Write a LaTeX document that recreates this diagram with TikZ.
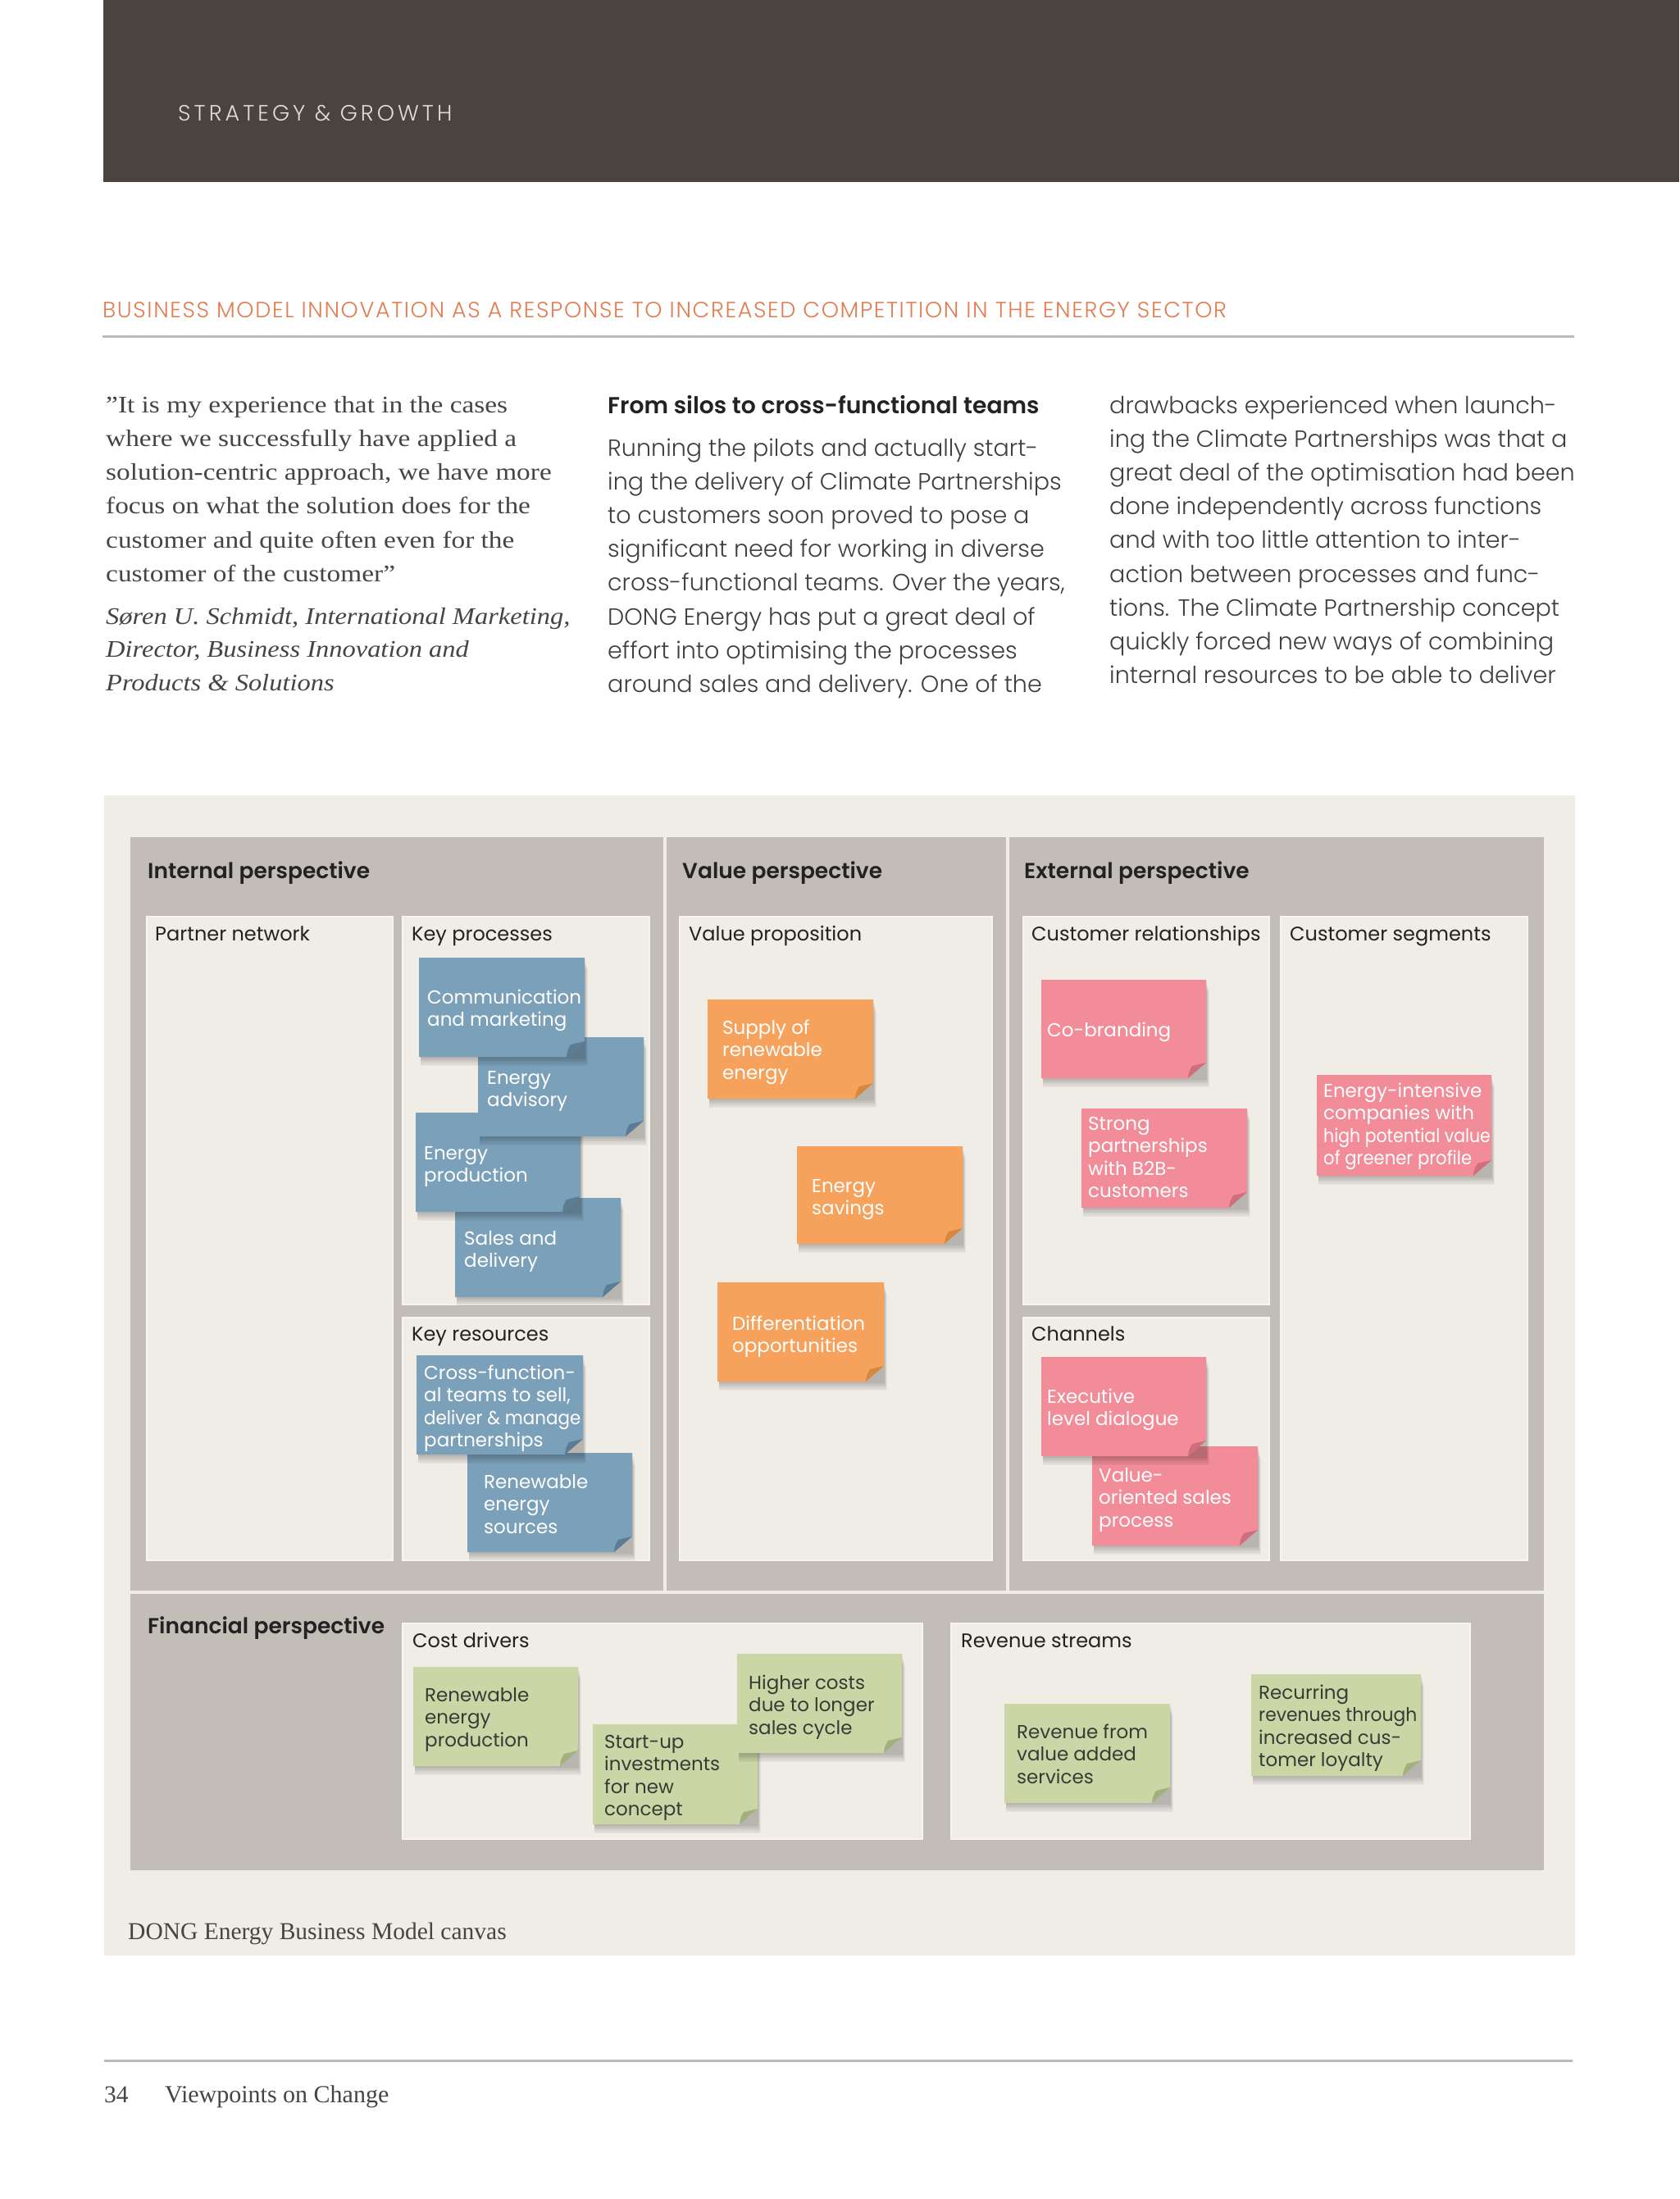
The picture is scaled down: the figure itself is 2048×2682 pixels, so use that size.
\documentclass[tikz,border=0pt]{standalone}
\usepackage{fontspec}
\usepackage{graphicx}
\usetikzlibrary{fit,calc}
\setmainfont{Liberation Serif}
\newfontfamily\quotefont{Liberation Serif}[FakeStretch=1.15]
\newfontfamily\quoteital{Liberation Serif Italic}[FakeStretch=1.12]
\newfontfamily\sansreg{Poppins}
\IfFontExistsTF{Poppins Light}{\newfontfamily\sanslight{Poppins Light}}{\newfontfamily\sanslight{Poppins}}
\IfFontExistsTF{Poppins SemiBold}{\newfontfamily\sanssemi{Poppins SemiBold}}{\newcommand\sanssemi{\sansreg\bfseries}}
\IfFontExistsTF{Poppins Light}{\newfontfamily\sansspaced{Poppins Light}[LetterSpace=15]}{\newfontfamily\sansspaced{Poppins}[LetterSpace=15]}
\IfFontExistsTF{Poppins Light}{\newfontfamily\sanstitle{Poppins Light}[LetterSpace=6]}{\newfontfamily\sanstitle{Poppins}[LetterSpace=6]}

\definecolor{band}{HTML}{4A443F}
\definecolor{bandtext}{HTML}{E2DDD5}
\definecolor{titleor}{HTML}{E47C52}
\definecolor{rulec}{HTML}{BDBBB8}
\definecolor{bodyc}{HTML}{3E3E3E}
\definecolor{headc}{HTML}{222222}
\definecolor{serifc}{HTML}{454545}
\definecolor{canvasc}{HTML}{F0ECE6}
\definecolor{panelc}{HTML}{C3BDB7}
\definecolor{boxc}{HTML}{F0ECE6}
\definecolor{boxedge}{HTML}{F7F5F1}
\definecolor{nblue}{HTML}{7BA0B9}
\definecolor{nbluefold}{HTML}{5B7C94}
\definecolor{norange}{HTML}{F6A25C}
\definecolor{norangefold}{HTML}{D6883F}
\definecolor{npink}{HTML}{F18C98}
\definecolor{npinkfold}{HTML}{CF6F7D}
\definecolor{ngreen}{HTML}{CAD6A6}
\definecolor{ngreenfold}{HTML}{A3B07E}
\definecolor{greentext}{HTML}{3A3A34}

\newcommand\mlines[1]{\vtop{\def\\{\cr}\halign{##\hfil\cr#1\crcr}}}
\newcommand\cond[2]{\scalebox{#1}[1]{#2}}

\newcommand\stickynote[6]{%
  \foreach \s in {2,4,6,8,10,12,14}{\fill[black,opacity=0.035] (#3+2,#4+\s) rectangle (#5+0.25*\s,#6+0.8*\s);}
  \node[fit={(#3,#4)(#5,#6)}, inner sep=0] (#1) {};
  \fill[#2] (#3,#4) -- (#5,#4) -- (#5,#6-19) -- (#5-22,#6) -- (#3,#6) -- cycle;
  \fill[#2fold] (#5-22,#6) .. controls (#5-21,#6-8) .. (#5-17,#6-15) -- (#5,#6-19) -- cycle;
}

\tikzset{
  txt/.style={anchor=base west, inner sep=0},
  panel/.style={fill=panelc, inner sep=0, draw=none},
  ibox/.style={fill=boxc, inner sep=0, draw=boxedge, line width=1.2pt},
  ptitle/.style={txt, text=headc, font=\sanssemi\fontsize{26.5}{30}\selectfont},
  blabel/.style={txt, text=headc, font=\sansreg\fontsize{24}{28}\selectfont},
  ntext/.style={txt, font=\sansreg\fontsize{23}{27.5}\selectfont},
  wtext/.style={ntext, text=white},
  gtext/.style={ntext, text=greentext},
  body/.style={txt, text=bodyc, font=\sanslight\fontsize{28.6}{41.2}\selectfont},
  serifbody/.style={txt, text=serifc, font=\fontsize{29.5}{41.3}\selectfont},
  quotebody/.style={txt, text=serifc, font=\quotefont\fontsize{29}{41.3}\selectfont},
}

\begin{document}
\begin{tikzpicture}[x=1pt,y=-1pt]
\useasboundingbox[fill=white] (0,0) rectangle (2048,2682);

% ---------- header ----------
\node[fit={(126,0)(2048,222)}, inner sep=0, fill=band] (band) {};
\node[txt, text=bandtext, font=\sansspaced\fontsize{27}{30}\selectfont] (kicker) at (217,147) {STRATEGY \& GROWTH};

\node[txt, text=titleor, font=\sanstitle\fontsize{27}{30}\selectfont] (title) at (125,387)
  {BUSINESS MODEL INNOVATION AS A RESPONSE TO INCREASED COMPETITION IN THE ENERGY SECTOR};
\coordinate (rl) at (125,410); \coordinate (rr) at (1920,410);
\draw[rulec, line width=3pt] (rl) -- (rr);

% ---------- text columns ----------
\node[quotebody] (quote) at (129,503) {\mlines{%
”It is my experience that in the cases\\
where we successfully have applied a\\
solution-centric approach, we have more\\
focus on what the solution does for the\\
customer and quite often even for the\\
customer of the customer”}};
\node[quotebody, font=\quoteital\fontsize{29}{40.5}\selectfont] (author) at (129,761) {\mlines{%
Søren U. Schmidt, International Marketing,\\
Director, Business Innovation and\\
Products \& Solutions}};

\node[txt, text=headc, font=\sanssemi\fontsize{28.2}{30}\selectfont] (subhead) at (741,504) {From silos to cross-functional teams};
\node[body] (col2) at (741,556) {\mlines{%
Running the pilots and actually start-\\
ing the delivery of Climate Partnerships\\
to customers soon proved to pose a\\
significant need for working in diverse\\
cross-functional teams. Over the years,\\
DONG Energy has put a great deal of\\
effort into optimising the processes\\
around sales and delivery. One of the}};
\node[body] (col3) at (1353,504) {\mlines{%
drawbacks experienced when launch-\\
ing the Climate Partnerships was that a\\
great deal of the optimisation had been\\
done independently across functions\\
and with too little attention to inter-\\
action between processes and func-\\
tions. The Climate Partnership concept\\
quickly forced new ways of combining\\
internal resources to be able to deliver}};

% ---------- canvas ----------
\node[fit={(127,970)(1921,2385)}, inner sep=0, fill=canvasc] (canvas) {};

\node[panel, fit={(159,1021)(809,1940)}] (pint) {};
\node[panel, fit={(813,1021)(1227,1940)}] (pval) {};
\node[panel, fit={(1231,1021)(1883,1940)}] (pext) {};
\node[panel, fit={(159,1944)(1883,2281)}] (pfin) {};

\node[ptitle] (tint) at (180,1071) {Internal perspective};
\node[ptitle] (tval) at (832,1071) {Value perspective};
\node[ptitle] (text) at (1249,1071) {External perspective};
\node[ptitle] (tfin) at (180,1992) {Financial perspective};

\node[ibox, fit={(179,1118)(479,1903)}] (bpartner) {};
\node[ibox, fit={(491,1118)(792,1591)}] (bproc) {};
\node[ibox, fit={(491,1607)(792,1903)}] (bres) {};
\node[ibox, fit={(829,1118)(1210,1903)}] (bvalue) {};
\node[ibox, fit={(1248,1118)(1548,1591)}] (brel) {};
\node[ibox, fit={(1248,1607)(1548,1903)}] (bchan) {};
\node[ibox, fit={(1562,1118)(1863,1903)}] (bseg) {};
\node[ibox, fit={(491,1980)(1125,2243)}] (bcost) {};
\node[ibox, fit={(1160,1980)(1793,2243)}] (brev) {};

\node[blabel] (lpartner) at (189,1147) {Partner network};
\node[blabel] (lproc) at (502,1147) {Key processes};
\node[blabel] (lres) at (502,1635) {Key resources};
\node[blabel] (lvalue) at (840,1147) {Value proposition};
\node[blabel] (lrel) at (1258,1147) {Customer relationships};
\node[blabel] (lchan) at (1258,1635) {Channels};
\node[blabel] (lseg) at (1573,1147) {Customer segments};
\node[blabel] (lcost) at (503,2009) {Cost drivers};
\node[blabel] (lrev) at (1172,2009) {Revenue streams};

% ---------- key processes ----------
\stickynote{nsales}{nblue}{555}{1461}{757}{1582}
\node[wtext] (tsales) at (566,1518) {\mlines{Sales and\\delivery}};
\stickynote{nprod}{nblue}{507}{1357}{708}{1478}
\node[wtext] (tprod) at (517,1414) {\mlines{Energy\\production}};
\stickynote{nadv}{nblue}{583}{1265}{785}{1386}
\node[wtext] (tadv) at (594,1322) {\mlines{Energy\\advisory}};
\stickynote{ncomm}{nblue}{511}{1168}{713}{1289}
\node[wtext] (tcomm) at (521,1224) {\mlines{Communication\\and marketing}};

% ---------- key resources ----------
\stickynote{nrenew}{nblue}{570}{1772}{771}{1893}
\node[wtext] (trenew) at (590,1815) {\mlines{Renewable\\energy\\sources}};
\stickynote{ncross}{nblue}{508}{1653}{711}{1774}
\node[wtext] (tcross) at (517,1682) {\mlines{Cross-function-\\al teams to sell,\\\cond{0.93}{deliver \& manage}\\partnerships}};

% ---------- value proposition ----------
\stickynote{nsupply}{norange}{863}{1219}{1065}{1340}
\node[wtext] (tsupply) at (881,1261) {\mlines{Supply of\\renewable\\energy}};
\stickynote{nsave}{norange}{972}{1398}{1174}{1517}
\node[wtext] (tsave) at (990,1454) {\mlines{Energy\\savings}};
\stickynote{ndiff}{norange}{875}{1564}{1078}{1685}
\node[wtext] (tdiff) at (893,1622) {\mlines{Differentiation\\opportunities}};

% ---------- customer relationships / channels / segments ----------
\stickynote{ncob}{npink}{1270}{1195}{1471}{1315}
\node[wtext] (tcob) at (1277,1264) {Co-branding};
\stickynote{nstrong}{npink}{1319}{1352}{1521}{1473}
\node[wtext] (tstrong) at (1327,1378) {\mlines{Strong\\partnerships\\with B2B-\\customers}};
\stickynote{nvalor}{npink}{1332}{1764}{1534}{1885}
\node[wtext] (tvalor) at (1340,1807) {\mlines{Value-\\oriented sales\\process}};
\stickynote{nexec}{npink}{1270}{1655}{1471}{1776}
\node[wtext] (texec) at (1277,1711) {\mlines{Executive\\level dialogue}};
\stickynote{nseg}{npink}{1606}{1311}{1819}{1434}
\node[wtext] (tseg) at (1614,1338) {\mlines{Energy-intensive\\companies with\\\cond{0.89}{high potential value}\\\cond{0.92}{of greener profile}}};

% ---------- cost drivers ----------
\stickynote{nrenprod}{ngreen}{504}{2033}{705}{2154}
\node[gtext] (trenprod) at (518,2075) {\mlines{Renewable\\energy\\production}};
\stickynote{nstart}{ngreen}{723}{2103}{924}{2225}
\node[gtext] (tstart) at (737,2132) {\mlines{Start-up\\investments\\for new\\concept}};
\stickynote{nhigh}{ngreen}{899}{2017}{1100}{2138}
\node[gtext] (thigh) at (913,2060) {\mlines{Higher costs\\due to longer\\sales cycle}};

% ---------- revenue streams ----------
\stickynote{nrevfrom}{ngreen}{1225}{2078}{1427}{2199}
\node[gtext] (trevfrom) at (1240,2120) {\mlines{Revenue from\\value added\\services}};
\stickynote{nrecur}{ngreen}{1526}{2042}{1733}{2166}
\node[gtext] (trecur) at (1535,2072) {\mlines{Recurring\\\cond{0.95}{revenues through}\\increased cus-\\tomer loyalty}};

% ---------- caption & footer ----------
\node[serifbody] (caption) at (156,2365) {DONG Energy Business Model canvas};
\coordinate (fl) at (127,2513); \coordinate (fr) at (1918,2513);
\draw[rulec, line width=3pt] (fl) -- (fr);
\node[serifbody] (pageno) at (127,2564) {34};
\node[serifbody, font=\fontsize{30}{34}\selectfont] (footer) at (201,2564) {Viewpoints on Change};
\end{tikzpicture}
\end{document}
